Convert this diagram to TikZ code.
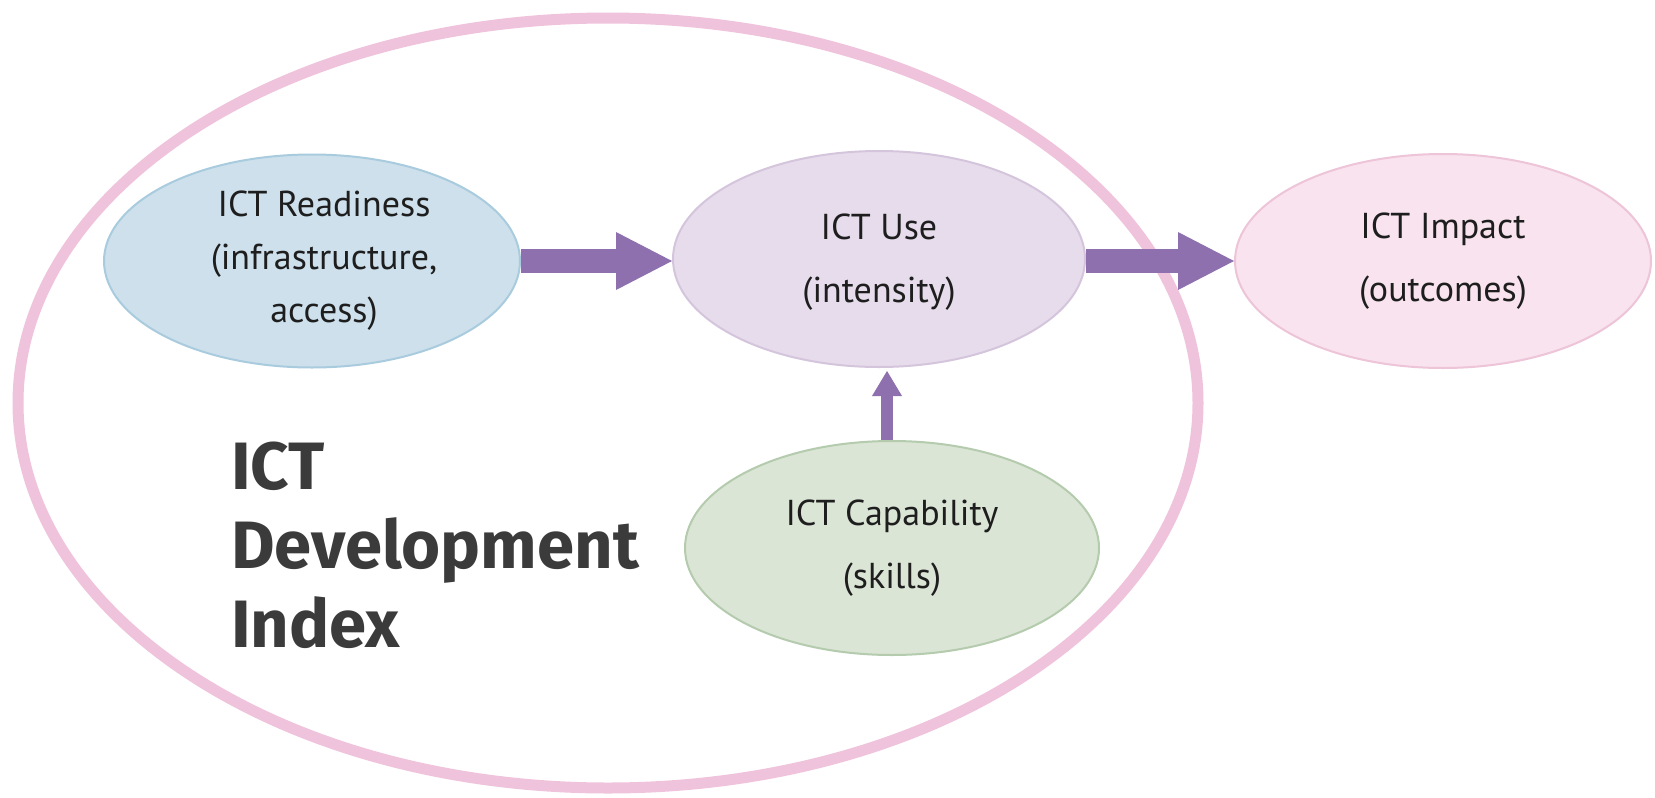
\documentclass[tikz,border=0pt]{standalone}
\usepackage{fontspec}
\setmainfont{PT Sans}
\newfontfamily\bigfont{Fira Sans}
\usetikzlibrary{arrows.meta,shapes.geometric}
\definecolor{ringc}{HTML}{F0C3DC}
\definecolor{arrc}{HTML}{8E70AE}
\definecolor{readf}{HTML}{CDE0EC}
\definecolor{readd}{HTML}{A9CBDE}
\definecolor{usef}{HTML}{E7DCEC}
\definecolor{used}{HTML}{D4C5DC}
\definecolor{impf}{HTML}{F8E3EE}
\definecolor{impd}{HTML}{EDC4D8}
\definecolor{capf}{HTML}{DBE5D6}
\definecolor{capd}{HTML}{B4CBAD}
\definecolor{bigt}{HTML}{3B3B3B}
\definecolor{nodet}{HTML}{1E1E1E}
\tikzset{
  oval/.style={ellipse, draw, line width=2pt, inner sep=0pt, align=center,
    text=nodet, font=\fontsize{36}{63}\selectfont},
  ovaltext/.style={inner sep=0pt, align=center, text=nodet,
    font=\fontsize{36}{53}\selectfont},
  fatarrow/.style={draw=arrc, line width=24pt,
    -{Triangle[length=56pt,width=58pt,line width=0pt]}},
  thinarrow/.style={draw=arrc, line width=12pt,
    -{Triangle[length=25pt,width=30pt,line width=0pt]}},
}
\begin{document}
\begin{tikzpicture}[x=1pt,y=-1pt]
\useasboundingbox (0,0) rectangle (1655,798);
\fill[white] (0,0) rectangle (1655,798);
% ring
\draw[ringc, line width=11pt] (608,403) ellipse [x radius=590, y radius=385];
% nodes
\node[oval, fill=readf, draw=readd, minimum width=416pt, minimum height=213pt]
  (read) at (312,261) {};
\node[ovaltext] (readtxt) at ([xshift=12pt]read.center)
  {ICT Readiness\\(infrastructure,\\access)};
\node[oval, fill=usef, draw=used, minimum width=412pt, minimum height=216pt]
  (use) at (879,259) {};
\node[ovaltext, font=\fontsize{36}{63}\selectfont] (usetxt)
  at ([yshift=-3pt]use.center) {ICT Use\\(intensity)};
\node[oval, fill=impf, draw=impd, minimum width=416pt, minimum height=214pt]
  (imp) at (1443,261) {ICT Impact\\(outcomes)};
\node[oval, fill=capf, draw=capd, minimum width=414pt, minimum height=214pt]
  (cap) at (892,548) {ICT Capability\\(skills)};
\node[anchor=north west, align=left, inner sep=0pt, text=bigt,
  font=\bigfont\fontsize{67}{79}\selectfont\bfseries] (idx) at (231,442)
  {ICT\\Development\\Index};
% arrows
\draw[fatarrow] (read.east) -- (read.east -| use.west);
\draw[fatarrow] (use.east |- imp.west) -- (imp.west);
\draw[thinarrow, shorten >=3pt] (cap.north -| 887,0) -- (use.south -| 887,0);
\end{tikzpicture}
\end{document}
